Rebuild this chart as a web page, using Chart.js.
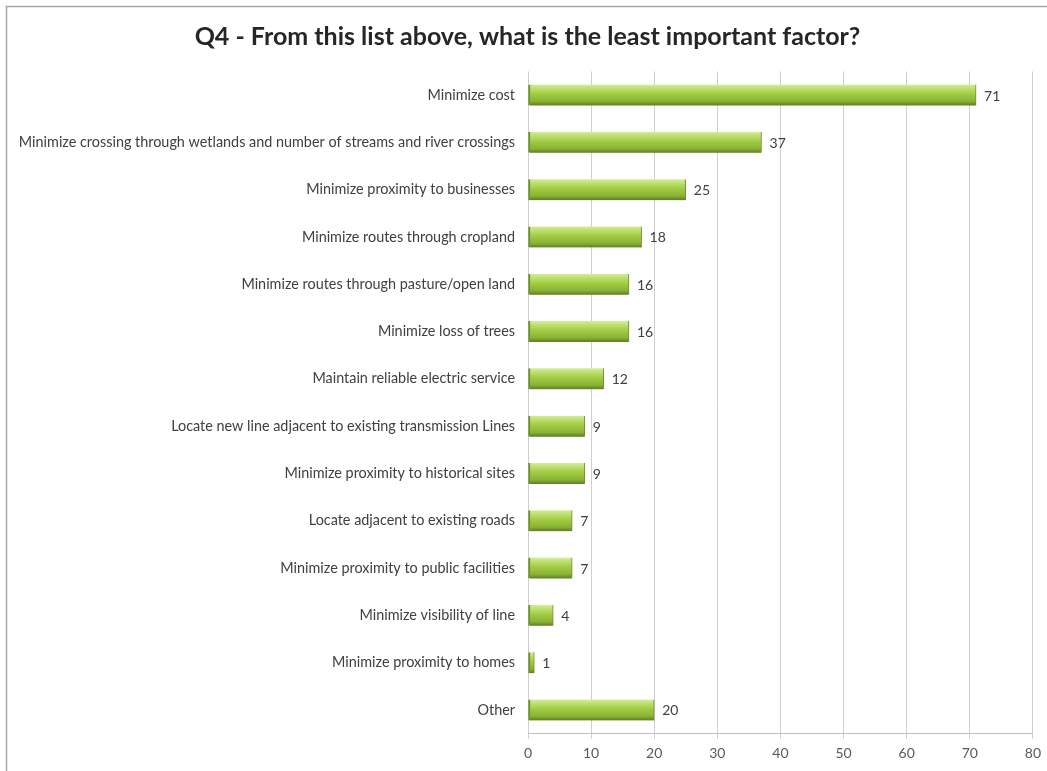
<!DOCTYPE html>
<html>
<head>
<meta charset="utf-8">
<script src="https://cdn.jsdelivr.net/npm/chart.js@4.4.1/dist/chart.umd.min.js"></script>
<style>
  html, body { margin: 0; padding: 0; background: #ffffff; }
  #wrap { width: 1047px; height: 771px; position: relative; }
</style>
</head>
<body>
<div id="wrap"><canvas id="c" width="1047" height="771"></canvas></div>
<script>
// Survey answers: least important routing factor
const categories = [
  "Minimize cost",
  "Minimize crossing through wetlands and number of streams and river crossings",
  "Minimize proximity to businesses",
  "Minimize routes through cropland",
  "Minimize routes through pasture/open land",
  "Minimize loss of trees",
  "Maintain reliable electric service",
  "Locate new line adjacent to existing transmission Lines",
  "Minimize proximity to historical sites",
  "Locate adjacent to existing roads",
  "Minimize proximity to public facilities",
  "Minimize visibility of line",
  "Minimize proximity to homes",
  "Other"
];
const responses = [71, 37, 25, 18, 16, 16, 12, 9, 9, 7, 7, 4, 1, 20];
const xTicks = [0, 10, 20, 30, 40, 50, 60, 70, 80];

const titleText = "Q4 - From this list above, what is the least important factor?";
const labelFont = "Lato, 'Open Sans', sans-serif";

// Outer frame of the chart
const framePlugin = {
  id: 'frame',
  beforeDraw(chart) {
    const ctx = chart.ctx;
    ctx.save();
    ctx.fillStyle = '#ffffff';
    ctx.fillRect(0, 0, chart.width, chart.height);
    ctx.strokeStyle = '#a6a6a6';
    ctx.lineWidth = 1.5;
    ctx.beginPath();
    ctx.moveTo(6.5, chart.height + 2);
    ctx.lineTo(6.5, 6.5);
    ctx.lineTo(chart.width + 2, 6.5);
    ctx.stroke();
    ctx.restore();
  }
};

// Value labels to the right of each bar
const valueLabels = {
  id: 'valueLabels',
  afterDatasetsDraw(chart) {
    const ctx = chart.ctx;
    const meta = chart.getDatasetMeta(0);
    ctx.save();
    ctx.font = "14px " + labelFont;
    ctx.fillStyle = '#404040';
    ctx.textAlign = 'left';
    ctx.textBaseline = 'middle';
    meta.data.forEach((bar, i) => {
      ctx.fillText(String(chart.data.datasets[0].data[i]), bar.x + 8, bar.y + 1);
    });
    ctx.restore();
  }
};

// Vertical green gradient for each bar
function barFill(context) {
  const chart = context.chart;
  if (!chart.chartArea || !chart.scales.y) return '#9ac43c';
  const yc = chart.scales.y.getPixelForValue(context.dataIndex);
  const g = chart.ctx.createLinearGradient(0, yc - 10.5, 0, yc + 10.5);
  g.addColorStop(0, '#d6eea0');
  g.addColorStop(0.15, '#c2e277');
  g.addColorStop(0.45, '#a2cc44');
  g.addColorStop(0.8, '#8ab234');
  g.addColorStop(1, '#5c7c24');
  return g;
}

new Chart(document.getElementById('c'), {
  type: 'bar',
  data: {
    labels: categories,
    datasets: [{
      data: responses,
      backgroundColor: barFill,
      borderColor: '#6f8f2c',
      borderWidth: { left: 2, right: 1, top: 0, bottom: 0 },
      borderSkipped: false,
      barThickness: 21
    }]
  },
  options: {
    indexAxis: 'y',
    responsive: false,
    animation: false,
    layout: { padding: { left: 20, right: 12, top: 0, bottom: 0 } },
    plugins: {
      legend: { display: false },
      tooltip: { enabled: false },
      title: {
        display: true,
        text: titleText,
        color: '#262626',
        font: { family: labelFont, size: 25, weight: 'bold', lineHeight: 1.2 },
        padding: { top: 22, bottom: 19.4 }
      }
    },
    scales: {
      x: {
        min: 0,
        max: 80,
        afterBuildTicks(scale) { scale.ticks = xTicks.map(v => ({ value: v })); },
        afterFit(scale) { scale.height = 37.4; },
        grid: { color: '#cfcfcf', lineWidth: 1, tickLength: 5, tickColor: '#cfcfcf' },
        border: { display: true, color: '#bfbfbf' },
        ticks: { color: '#595959', font: { family: labelFont, size: 14 }, padding: 6 }
      },
      y: {
        afterFit(scale) { scale.width = 508; },
        grid: { display: false },
        border: { display: false },
        ticks: { color: '#404040', font: { family: labelFont, size: 14.4 }, padding: 5, autoSkip: false }
      }
    }
  },
  plugins: [framePlugin, valueLabels]
});
</script>
</body>
</html>
